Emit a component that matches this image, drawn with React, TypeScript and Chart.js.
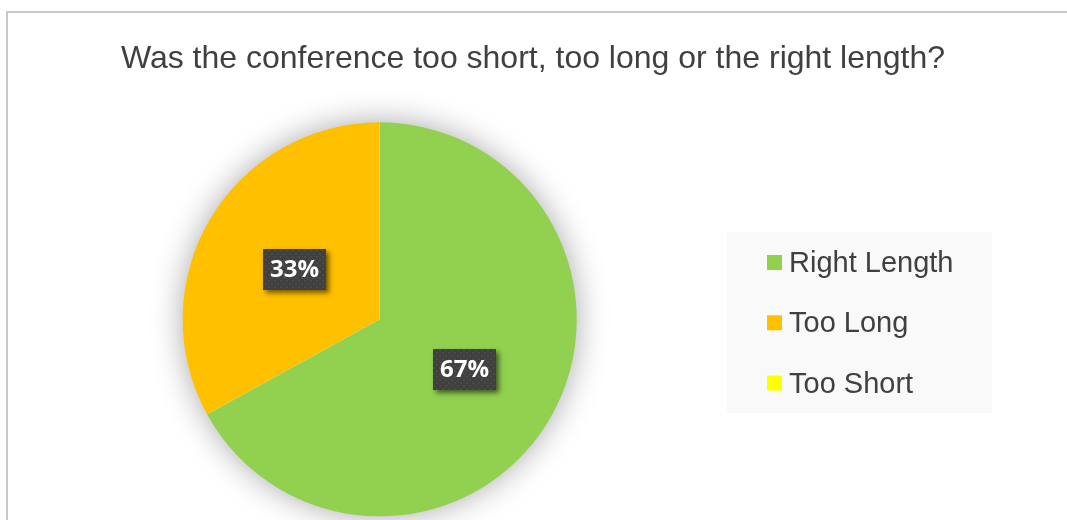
import React, { useEffect, useRef } from "react";
import { Chart, registerables } from "chart.js";

Chart.register(...registerables);

const TITLE = "Was the conference too short, too long or the right length?";
const categories = ["Right Length", "Too Long", "Too Short"];
const percentValues = [67, 33, 0];
const sliceColors = ["#92D050", "#FFC000", "#FFFF00"];

export default function App() {
  const ref = useRef<HTMLCanvasElement>(null);

  useEffect(() => {
    const canvas = ref.current;
    if (!canvas) return;
    let destroyed = false;

    const tile = document.createElement("canvas");
    tile.width = 6;
    tile.height = 6;
    const tctx = tile.getContext("2d")!;
    tctx.fillStyle = "#404040";
    tctx.fillRect(0, 0, 6, 6);
    tctx.fillStyle = "#4a4a4a";
    tctx.fillRect(1, 1, 2, 2);
    tctx.fillRect(4, 4, 2, 2);

    const textColor = "#404040";

    const decor = {
      id: "decor",
      beforeDraw(chart: any) {
        const ctx = chart.ctx as CanvasRenderingContext2D;
        const W = chart.width;
        const H = chart.height;
        ctx.save();
        ctx.fillStyle = "#ffffff";
        ctx.fillRect(0, 0, W, H);
        // outer frame (left and top visible)
        ctx.fillStyle = "#c8c8c8";
        ctx.fillRect(6, 11, W - 6, 2);
        ctx.fillRect(6, 11, 2, H - 11);
        // title
        ctx.fillStyle = textColor;
        ctx.font = '32px "Liberation Sans", Arial, sans-serif';
        ctx.textAlign = "center";
        ctx.textBaseline = "alphabetic";
        ctx.fillText(TITLE, 533, 68);
        // legend
        ctx.fillStyle = "#f9f9f9";
        ctx.fillRect(727, 232, 265, 181);
        ctx.font = '29px "Liberation Sans", Arial, sans-serif';
        ctx.textAlign = "left";
        const labels = chart.data.labels as string[];
        const colors = chart.data.datasets[0].backgroundColor as string[];
        labels.forEach((lab, i) => {
          const base = 272 + i * 60.3;
          ctx.fillStyle = colors[i];
          ctx.fillRect(767, base - 17, 15, 15);
          ctx.fillStyle = textColor;
          ctx.fillText(lab, 789, base);
        });
        ctx.restore();
      },
      beforeDatasetsDraw(chart: any) {
        const meta = chart.getDatasetMeta(0);
        const arc = meta.data[0];
        if (!arc) return;
        const ctx = chart.ctx as CanvasRenderingContext2D;
        ctx.save();
        ctx.shadowColor = "rgba(0,0,0,0.36)";
        ctx.shadowBlur = 32;
        ctx.fillStyle = "#ffffff";
        ctx.beginPath();
        ctx.arc(arc.x, arc.y, arc.outerRadius - 1, 0, Math.PI * 2);
        ctx.fill();
        ctx.restore();
      },
      afterDatasetsDraw(chart: any) {
        const meta = chart.getDatasetMeta(0);
        const ctx = chart.ctx as CanvasRenderingContext2D;
        const data = chart.data.datasets[0].data as number[];
        const pattern = ctx.createPattern(tile, "repeat");
        meta.data.forEach((el: any, i: number) => {
          const v = data[i];
          if (!v) return;
          const p = el.tooltipPosition();
          const bw = 63;
          const bh = 41;
          const x = Math.round(p.x - bw / 2);
          const y = Math.round(p.y - bh / 2);
          ctx.save();
          ctx.shadowColor = "rgba(0,0,0,0.55)";
          ctx.shadowBlur = 5;
          ctx.shadowOffsetX = 3;
          ctx.shadowOffsetY = 3;
          ctx.fillStyle = "#404040";
          ctx.fillRect(x, y, bw, bh);
          ctx.restore();
          ctx.save();
          if (pattern) {
            ctx.fillStyle = pattern;
            ctx.fillRect(x, y, bw, bh);
          }
          ctx.fillStyle = "#ffffff";
          ctx.font = 'bold 24px "Open Sans", "DejaVu Sans", sans-serif';
          ctx.textAlign = "center";
          ctx.textBaseline = "middle";
          ctx.fillText(v + "%", x + bw / 2, y + bh / 2 + 1);
          ctx.restore();
        });
      },
    };

    const chart = new Chart(canvas, {
      type: "pie",
      data: {
        labels: categories,
        datasets: [
          {
            data: percentValues,
            backgroundColor: sliceColors,
            borderWidth: 0,
          },
        ],
      },
      options: {
        responsive: false,
        animation: false,
        layout: {
          padding: { left: 182.7, right: 490.3, top: 122, bottom: 3.3 },
        },
        plugins: {
          legend: { display: false },
          title: { display: false },
          tooltip: { enabled: false },
        },
      },
      plugins: [decor],
    });

    const fonts = (document as any).fonts;
    if (fonts && fonts.load) {
      Promise.all([
        fonts.load('bold 24px "Open Sans"'),
        fonts.load('32px "Liberation Sans"'),
      ])
        .then(() => {
          if (!destroyed) chart.draw();
        })
        .catch(() => {});
    }

    return () => {
      destroyed = true;
      chart.destroy();
    };
  }, []);

  return (
    <div
      style={{
        position: "fixed",
        left: 0,
        top: 0,
        width: 1067,
        height: 520,
        background: "#ffffff",
      }}
    >
      <canvas ref={ref} width={1067} height={520} style={{ display: "block" }} />
    </div>
  );
}
